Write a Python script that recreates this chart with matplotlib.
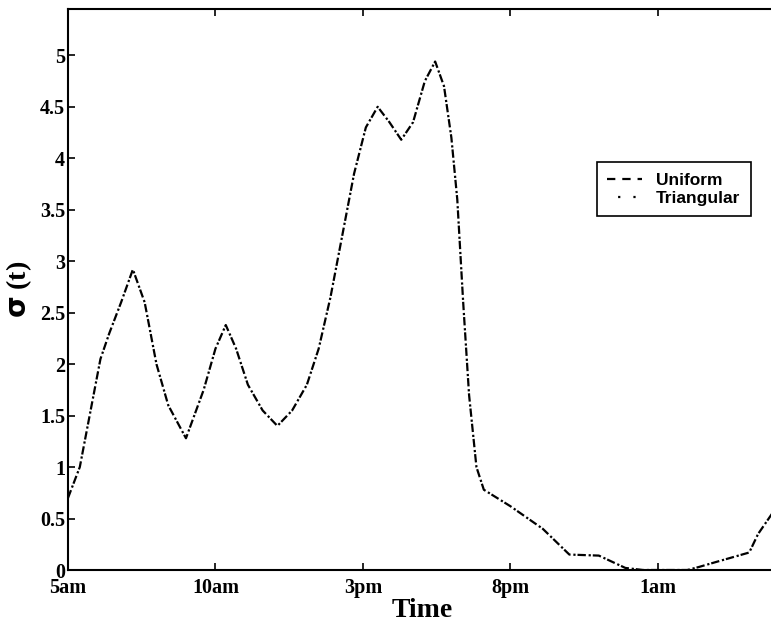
import numpy as np
import matplotlib
matplotlib.use("Agg")
from matplotlib import pyplot as plt

plt.rcParams["lines.scale_dashes"] = False

# hours after 5am
hours = [0, 0.4, 1.1, 1.4, 1.8, 2.2, 2.6, 3.0, 3.4, 4.0, 4.6, 5.0, 5.35, 5.7,
         6.1, 6.6, 7.1, 7.6, 8.1, 8.5, 8.9, 9.3, 9.7, 10.1, 10.5, 10.9, 11.3,
         11.7, 12.1, 12.45, 12.75, 13.0, 13.2, 13.4, 13.6, 13.85, 14.1, 15.0,
         16.1, 17.0, 18.0, 18.9, 19.5, 21.0, 21.4, 22.0, 23.1, 23.4, 24.0]
sigma = [0.70, 1.0, 2.05, 2.3, 2.6, 2.92, 2.6, 2.0, 1.6, 1.28, 1.75, 2.15,
         2.38, 2.15, 1.8, 1.55, 1.4, 1.55, 1.8, 2.15, 2.65, 3.25, 3.85, 4.3,
         4.5, 4.35, 4.18, 4.35, 4.75, 4.94, 4.7, 4.2, 3.6, 2.6, 1.7, 1.0,
         0.78, 0.62, 0.4, 0.15, 0.14, 0.02, 0.0, 0.0, 0.03, 0.08, 0.17, 0.35,
         0.6]
xtick_pos = [0, 5, 10, 15, 20]
xtick_lab = ["5am", "10am", "3pm", "8pm", "1am"]
ytick_pos = np.arange(0, 5.01, 0.5)
ytick_lab = ["0", "0.5", "1", "1.5", "2", "2.5", "3", "3.5", "4", "4.5", "5"]

serif = {"family": "Liberation Serif", "weight": "bold"}

fig = plt.figure(figsize=(7.71, 6.27), dpi=100)
ax = fig.add_axes([0.0882, 0.0909, 0.918, 0.8947])

ax.plot(hours, sigma, color="k", lw=1.6, linestyle=(0, (6, 5)), label="Uniform")
ax.plot(hours, sigma, color="k", lw=1.6, linestyle=(3, (1.6, 9.4)), label="Triangular")

ax.set_xlim(0, 24)
ax.set_ylim(0, 5.45)
ax.set_xticks(xtick_pos)
ax.set_xticklabels(xtick_lab, fontsize=14.5, **serif)
ax.set_yticks(ytick_pos)
ax.set_yticklabels(ytick_lab, fontsize=14.5, **serif)
ax.tick_params(direction="in", length=5, width=1.2, top=True, right=False)
ax.tick_params(axis="x", pad=6)
ax.tick_params(axis="y", pad=2)
for s in ax.spines.values():
    s.set_linewidth(1.5)

ax.set_xlabel("Time", fontsize=20, labelpad=0, **serif)
ax.set_ylabel(r"$\mathbf{\sigma}$ (t)", fontsize=20, labelpad=4, **serif)

leg = ax.legend(loc="upper left", bbox_to_anchor=(0.735, 0.742), fancybox=False,
                edgecolor="k", framealpha=1, handlelength=2.0, borderpad=0.6,
                labelspacing=0.15,
                prop={"family": "Liberation Sans", "weight": "bold", "size": 12.5})
leg.get_frame().set_linewidth(1.2)

fig.savefig("out.png", dpi=100)
